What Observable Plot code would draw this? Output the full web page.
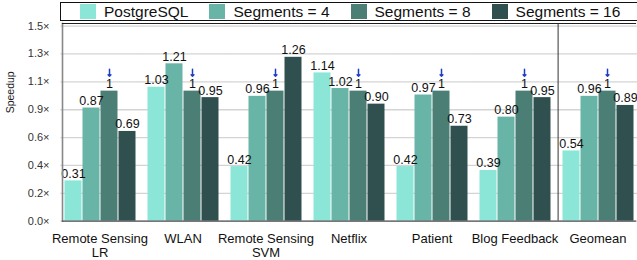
<!DOCTYPE html>
<html>
<head>
<meta charset="utf-8">
<script src="https://cdn.jsdelivr.net/npm/d3@7"></script>
<script src="https://cdn.jsdelivr.net/npm/@observablehq/plot@0.6"></script>
<style>
  html, body { margin: 0; padding: 0; background: #fff; overflow: hidden; }
  #wrap { position: relative; width: 637px; height: 260px; overflow: hidden; font-family: "Liberation Sans", Arial, Helvetica, sans-serif; }
  #legend { position: absolute; top: 2px; left: 60px; width: 600px; height: 17px; border: 1px solid #111; background: #fff;
            display: flex; align-items: center; padding-left: 19px; box-sizing: content-box; z-index: 2; }
  .item { display: flex; align-items: center; margin-right: 21px; font-size: 15.5px; color: #111; white-space: nowrap; }
  .sw { width: 16px; height: 15px; margin-right: 8px; }
</style>
</head>
<body>
<div id="wrap"><div id="legend"></div><div id="chart"></div></div>
<script>
const datasets = ["Remote Sensing\nLR", "WLAN", "Remote Sensing\nSVM", "Netflix", "Patient", "Blog Feedback", "Geomean"];
const series = ["PostgreSQL", "Segments = 4", "Segments = 8", "Segments = 16"];
const colors = ["#8be6d7", "#68b4a6", "#4b7e75", "#2f504e"];
const postgres = [0.31, 1.03, 0.42, 1.14, 0.42, 0.39, 0.54];
const seg4 = [0.87, 1.21, 0.96, 1.02, 0.97, 0.80, 0.96];
const seg8 = [1, 1, 1, 1, 1, 1, 1];
const seg16 = [0.69, 0.95, 1.26, 0.90, 0.73, 0.95, 0.89];
const yTicks = [0, 0.214, 0.429, 0.643, 0.857, 1.071, 1.286, 1.5];
const yTickLabels = ["0.0×", "0.2×", "0.4×", "0.6×", "0.9×", "1.1×", "1.3×", "1.5×"];
const yLabel = "Speedup";
const baselineSeries = "Segments = 8";

const allValues = [postgres, seg4, seg8, seg16];
const rows = [];
datasets.forEach((ds, i) => series.forEach((s, j) => rows.push({dataset: ds, series: s, value: allValues[j][i]})));
const fmt = v => v === 1 ? "1" : v.toFixed(2);

const legend = document.getElementById("legend");
series.forEach((s, j) => {
  const it = document.createElement("div"); it.className = "item";
  const sw = document.createElement("div"); sw.className = "sw"; sw.style.background = colors[j];
  const tx = document.createElement("span"); tx.textContent = s;
  it.appendChild(sw); it.appendChild(tx); legend.appendChild(it);
});

const chart = Plot.plot({
  width: 637, height: 260,
  marginLeft: 60, marginRight: 0, marginTop: 23, marginBottom: 39.3,
  style: {fontFamily: "Liberation Sans, Arial, Helvetica, sans-serif", fontSize: "12px", color: "#111", background: "transparent"},
  fx: {domain: datasets, paddingInner: 0.1, paddingOuter: 0.02, label: null},
  x: {domain: series, axis: null, paddingInner: 0, paddingOuter: 0},
  y: {domain: [0, 1.5], insetTop: 2.6, axis: null},
  color: {domain: series, range: colors},
  marks: [
    Plot.gridY(yTicks, {stroke: "#d4d4d4", strokeOpacity: 1, strokeWidth: 1.3, insetLeft: -1.6, insetRight: -6.8}),
    Plot.barY(rows, {fx: "dataset", x: "series", y: "value", fill: "series", insetLeft: 0.5, insetRight: 0.5}),
    Plot.text(rows, {fx: "dataset", x: "series", y: "value", text: d => fmt(d.value), lineAnchor: "bottom", dy: -3, fontSize: 12.5, fill: "#111"}),
    Plot.vector(rows.filter(d => d.series === baselineSeries), {fx: "dataset", x: "series", y: "value", length: 7, rotate: 180, anchor: "end", stroke: "#1f3cc4", strokeWidth: 1.5, dy: -15}),
    Plot.axisY(yTicks, {tickSize: 0, tickPadding: 13, fontSize: 11, fill: "#333", tickFormat: (d, i) => yTickLabels[i], label: null}),
    Plot.text([yLabel], {fx: () => datasets[0], frameAnchor: "left", rotate: -90, dx: -51.5, dy: -9, fontSize: 10.5, fill: "#222"}),
    Plot.axisFx({anchor: "bottom", tickSize: 0, tickPadding: 12, fontSize: 13, fill: "#111", label: null, lineHeight: 1.05}),
    Plot.ruleX([datasets[datasets.length - 1]], {fx: d => d, x: () => series[0], dx: -13.4, stroke: "#333", strokeWidth: 1}),
    Plot.frame({facet: "super", anchor: "left", stroke: "#888", strokeWidth: 1.6}),
    Plot.frame({facet: "super", anchor: "bottom", stroke: "#555", strokeWidth: 1.3}),
    Plot.frame({facet: "super", anchor: "top", stroke: "#222", strokeWidth: 1.2})
  ]
});
document.getElementById("chart").appendChild(chart);
</script>
</body>
</html>
